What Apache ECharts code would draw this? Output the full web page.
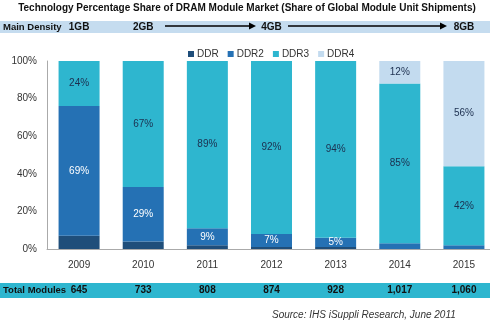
<!DOCTYPE html>
<html><head><meta charset="utf-8">
<script src="https://cdn.jsdelivr.net/npm/echarts@6/dist/echarts.min.js"></script>
<style>html,body{margin:0;padding:0;background:#fff;overflow:hidden}#c{width:496px;height:321px}</style>
</head><body><div id="c"></div>
<script>
const years = ['2009','2010','2011','2012','2013','2014','2015'];
const ddr  = [7, 4, 2, 1, 1, 0, 0];
const ddr2 = [69, 29, 9, 7, 5, 3, 2];
const ddr3 = [24, 67, 89, 92, 94, 85, 42];
const ddr4 = [0, 0, 0, 0, 0, 12, 56];
const totals = ['645','733','808','874','928','1,017','1,060'];
const densities = ['1GB','2GB','','4GB','','','8GB'];
const yTicks = [0, 20, 40, 60, 80, 100];

const FONT = 'Liberation Sans, Arial, sans-serif';
const chart = echarts.init(document.getElementById('c'), null, {renderer:'canvas'});

function lbl(color, minShow){
  return {show:true, position:'inside', color:color, fontSize:10, fontFamily:FONT,
    formatter: p => p.value >= minShow ? p.value + '%' : ''};
}

chart.setOption({
  animation:false,
  textStyle:{fontFamily:FONT},
  graphic:[
    {type:'text', x:247, y:8, style:{text:'Technology Percentage Share of DRAM Module Market (Share of Global Module Unit Shipments)', font:'bold 10px '+FONT, fill:'#111', align:'center', verticalAlign:'middle'}},
    {type:'rect', shape:{x:0, y:21, width:496, height:12}, style:{fill:'#c5dcef'}, z:-1},
    {type:'text', x:3, y:27.5, style:{text:'Main Density', font:'bold 9.5px '+FONT, fill:'#111', verticalAlign:'middle'}},
    {type:'line', shape:{x1:165, y1:26, x2:254, y2:26}, style:{stroke:'#000', lineWidth:1.5}},
    {type:'polygon', shape:{points:[[256,26],[249,22.5],[249,29.5]]}, style:{fill:'#000'}},
    {type:'line', shape:{x1:288, y1:26, x2:444, y2:26}, style:{stroke:'#000', lineWidth:1.5}},
    {type:'polygon', shape:{points:[[447,26],[440,22.5],[440,29.5]]}, style:{fill:'#000'}},
    {type:'rect', shape:{x:0, y:283, width:496, height:15}, style:{fill:'#2eb6cf'}, z:-1},
    {type:'text', x:3, y:290.5, style:{text:'Total Modules', font:'bold 9.5px '+FONT, fill:'#111', verticalAlign:'middle'}},
    {type:'text', x:272, y:315, style:{text:'Source: IHS iSuppli Research, June 2011', font:'italic 10px '+FONT, fill:'#333', verticalAlign:'middle'}}
  ],
  legend:{
    top:44, left:183, itemWidth:6, itemHeight:6, itemGap:9, icon:'rect',
    textStyle:{fontSize:10, color:'#333', fontFamily:FONT, padding:[0,0,0,-2]},
    data:['DDR','DDR2','DDR3','DDR4']
  },
  grid:{left:47, right:0, top:61, height:188, containLabel:false},
  xAxis:[
    {type:'category', data:years, position:'bottom',
     axisLine:{show:true, lineStyle:{color:'#aaa'}}, axisTick:{show:false},
     axisLabel:{color:'#333', fontSize:10, margin:11, fontFamily:FONT}},
    {type:'category', data:totals, position:'bottom', offset:41,
     axisLine:{show:false}, axisTick:{show:false},
     axisLabel:{color:'#111', fontSize:10, fontWeight:'bold', margin:0, fontFamily:FONT, verticalAlign:'middle'}},
    {type:'category', data:densities, position:'top', offset:34,
     axisLine:{show:false}, axisTick:{show:false},
     axisLabel:{color:'#111', fontSize:10, fontWeight:'bold', margin:0, fontFamily:FONT, verticalAlign:'middle'}}
  ],
  yAxis:{type:'value', min:yTicks[0], max:yTicks[yTicks.length-1], interval:20,
    axisLine:{show:true, lineStyle:{color:'#aaa'}}, axisTick:{show:false}, splitLine:{show:false},
    axisLabel:{formatter:'{value}%', color:'#333', fontSize:10, margin:10, fontFamily:FONT}},
  series:[
    {name:'DDR', type:'bar', stack:'s', data:ddr, barWidth:41, itemStyle:{color:'#1f4e7a'}, label:{show:false}},
    {name:'DDR2', type:'bar', stack:'s', data:ddr2, barWidth:41, itemStyle:{color:'#2571b4'}, label:lbl('#fff', 5)},
    {name:'DDR3', type:'bar', stack:'s', data:ddr3, barWidth:41, itemStyle:{color:'#2eb6cf'}, label:lbl('#1c2f4f', 1)},
    {name:'DDR4', type:'bar', stack:'s', data:ddr4, barWidth:41, itemStyle:{color:'#c3dbef'}, label:lbl('#1c2f4f', 1)}
  ]
});
</script></body></html>
